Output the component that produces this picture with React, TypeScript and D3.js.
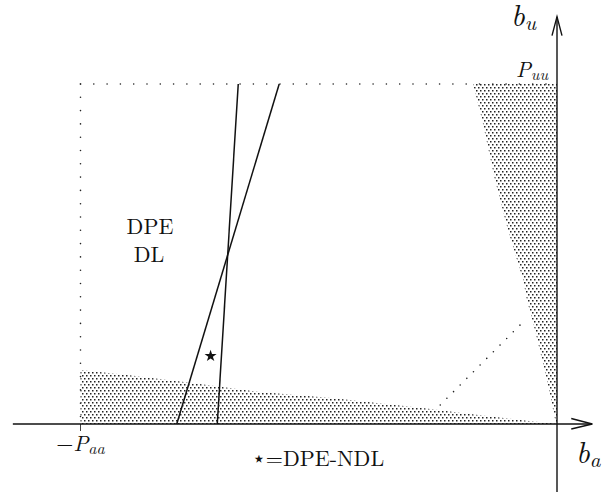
import * as d3 from "d3";

const width = 602;
const height = 495;

// domain units: b_a runs from -P_aa to 0, b_u from 0 to P_uu
const Paa = 1;
const Puu = 1;

// two boundary lines (b_a, b_u)
const steepLine = [
  { ba: -0.713, bu: 0 },
  { ba: -0.669, bu: 1 },
];
const slantLine = [
  { ba: -0.798, bu: 0 },
  { ba: -0.583, bu: 1 },
];

// left edge of the shaded region along the b_u axis
const rightEdge = [
  { ba: -0.176, bu: 1.0 },
  { ba: -0.157, bu: 0.894 },
  { ba: -0.13, bu: 0.718 },
  { ba: -0.103, bu: 0.571 },
  { ba: -0.071, bu: 0.424 },
  { ba: -0.063, bu: 0.365 },
  { ba: -0.046, bu: 0.276 },
  { ba: -0.021, bu: 0.129 },
  { ba: -0.008, bu: 0.041 },
  { ba: -0.002, bu: 0 },
];

// upper edge of the shaded region along the b_a axis
const bottomEdge = [
  { ba: -1, bu: 0.159 },
  { ba: -0.902, bu: 0.144 },
  { ba: -0.77, bu: 0.121 },
  { ba: -0.623, bu: 0.094 },
  { ba: -0.468, bu: 0.076 },
  { ba: -0.283, bu: 0.047 },
  { ba: -0.161, bu: 0.026 },
  { ba: -0.059, bu: 0.009 },
  { ba: -0.015, bu: 0.003 },
  { ba: 0, bu: 0 },
];

// dotted diagonal
const diagonal = [
  { ba: -0.245, bu: 0.056 },
  { ba: -0.069, bu: 0.303 },
];

const ndlPoint = { ba: -0.727, bu: 0.2 };

const x = d3.scaleLinear().domain([-Paa, 0]).range([80.5, 557]);
const y = d3.scaleLinear().domain([0, Puu]).range([424, 84]);

const font = { fontFamily: '"Latin Modern Roman"' };

export default function App() {
  const line = d3
    .line<{ ba: number; bu: number }>()
    .x((d) => x(d.ba))
    .y((d) => y(d.bu));

  const bottomArea = d3
    .area<{ ba: number; bu: number }>()
    .x((d) => x(d.ba))
    .y0(y(0))
    .y1((d) => y(d.bu));

  const rightPoly =
    line([...rightEdge, { ba: 0, bu: 0 }, { ba: 0, bu: Puu }]) + "Z";

  const star = d3.symbol(d3.symbolStar, 45)();

  const x0 = x(0);
  const y0 = y(0);
  const axisLeft = x(-1.142);
  const axisRight = x(0.074);
  const axisTop = y(1.198);
  const axisBottom = y(-0.2);

  return (
    <svg
      width={width}
      height={height}
      style={{ position: "absolute", left: 0, top: 0, background: "white" }}
    >
      <defs>
        <pattern id="dots" width={4} height={6} patternUnits="userSpaceOnUse">
          <rect x={0} y={0} width={1.5} height={1.5} fill="#222" />
          <rect x={2} y={3} width={1.5} height={1.5} fill="#222" />
        </pattern>
      </defs>

      {/* shaded regions */}
      <path d={bottomArea(bottomEdge) ?? ""} fill="url(#dots)" />
      <path d={rightPoly} fill="url(#dots)" />

      {/* dotted box */}
      <line
        x1={x(-Paa)}
        x2={x0}
        y1={y(Puu)}
        y2={y(Puu)}
        stroke="#222"
        strokeWidth={1.6}
        strokeDasharray="0 13.3"
        strokeLinecap="round"
      />
      <line
        x1={x(-Paa)}
        x2={x(-Paa)}
        y1={y(Puu)}
        y2={y0}
        stroke="#222"
        strokeWidth={1.6}
        strokeDasharray="0 13.3"
        strokeLinecap="round"
      />
      <line
        x1={x(-Paa)}
        x2={x(-Paa)}
        y1={y0}
        y2={y0 + 7}
        stroke="#444"
        strokeWidth={1}
      />

      {/* dotted diagonal */}
      <path
        d={line(diagonal) ?? ""}
        fill="none"
        stroke="#222"
        strokeWidth={1.6}
        strokeDasharray="0 9.4"
        strokeLinecap="round"
      />

      {/* boundary lines */}
      <path d={line(steepLine) ?? ""} fill="none" stroke="#111" strokeWidth={1.5} />
      <path d={line(slantLine) ?? ""} fill="none" stroke="#111" strokeWidth={1.5} />

      {/* axes */}
      <line x1={axisLeft} x2={axisRight} y1={y0} y2={y0} stroke="#111" strokeWidth={1.4} />
      <polyline
        points={`${axisRight - 21},${y0 - 5.5} ${axisRight},${y0} ${axisRight - 21},${y0 + 5}`}
        fill="none"
        stroke="#111"
        strokeWidth={1.4}
      />
      <line x1={x0} x2={x0} y1={axisTop} y2={axisBottom} stroke="#111" strokeWidth={1.4} />
      <polyline
        points={`${x0 - 5},${axisTop + 19} ${x0},${axisTop} ${x0 + 5},${axisTop + 19}`}
        fill="none"
        stroke="#111"
        strokeWidth={1.4}
      />

      {/* NDL point */}
      <path
        d={star ?? ""}
        transform={`translate(${x(ndlPoint.ba)},${y(ndlPoint.bu)})`}
        fill="#111"
      />

      {/* labels */}
      <text x={511} y={26} fontSize={30} fontStyle="italic" fill="#111" style={font}>
        b
        <tspan fontSize={21} dy={4}>
          u
        </tspan>
      </text>
      <text x={576} y={463} fontSize={30} fontStyle="italic" fill="#111" style={font}>
        b
        <tspan fontSize={21} dy={4}>
          a
        </tspan>
      </text>
      <text
        x={x0 - 9}
        y={y(Puu) - 7}
        textAnchor="end"
        fontSize={22}
        fontStyle="italic"
        fill="#111"
        style={font}
      >
        P
        <tspan fontSize={16} dy={3}>
          uu
        </tspan>
      </text>
      <text x={x(-Paa)} y={451} textAnchor="middle" fontSize={22} fill="#111" style={font}>
        −<tspan fontStyle="italic">P</tspan>
        <tspan fontStyle="italic" fontSize={16} dy={3}>
          aa
        </tspan>
      </text>

      <text x={150} y={234} textAnchor="middle" fontSize={22} fill="#111" style={font}>
        DPE
      </text>
      <text x={149} y={262} textAnchor="middle" fontSize={22} fill="#111" style={font}>
        DL
      </text>
      <text x={318} y={466} textAnchor="middle" fontSize={22} fill="#111" style={font}>
        ⋆=DPE-NDL
      </text>
    </svg>
  );
}
